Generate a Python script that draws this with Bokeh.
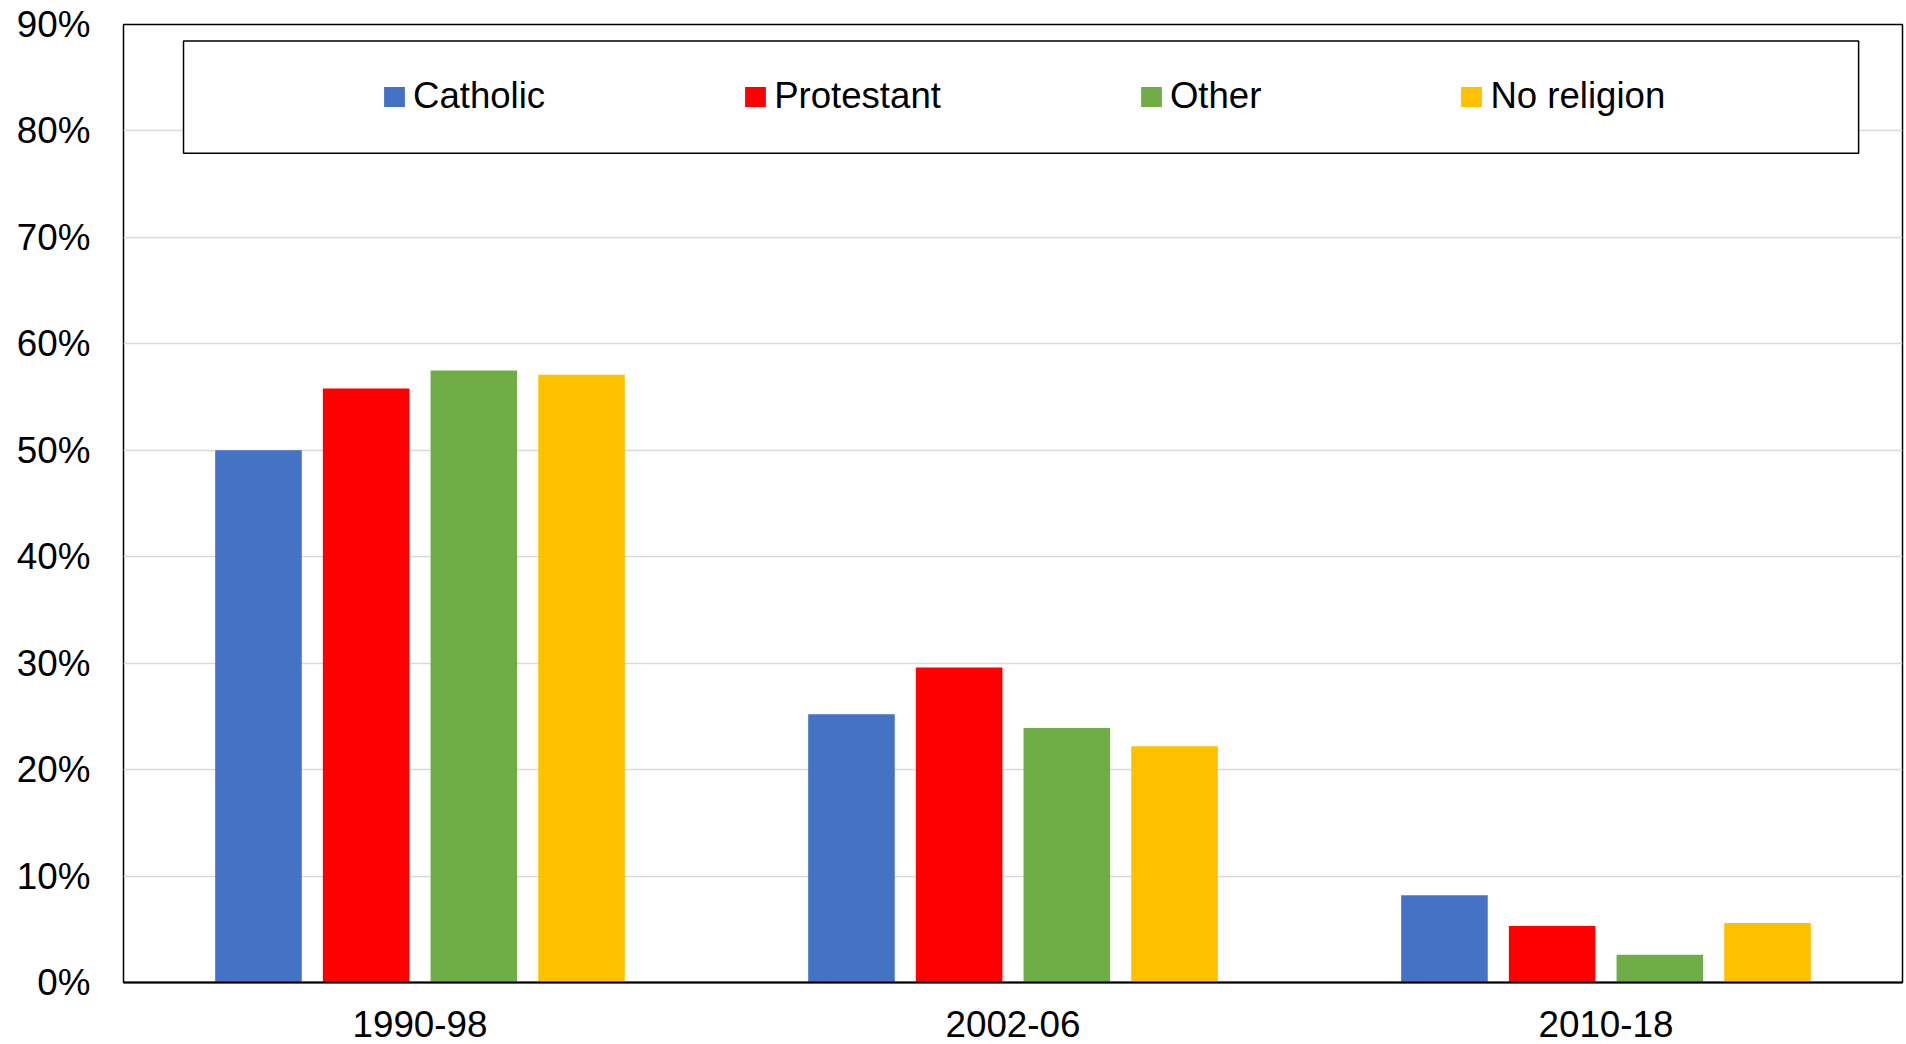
from bokeh.plotting import figure
from bokeh.models import (ColumnDataSource, FactorRange, Range1d, NumeralTickFormatter,
                          FixedTicker, Legend, LegendItem, BoxAnnotation)
from bokeh.transform import dodge
from bokeh.embed import file_html
from bokeh.resources import INLINE

# ---- data ----
periods = ["1990-98", "2002-06", "2010-18"]
series = ["Catholic", "Protestant", "Other", "No religion"]
catholic = [0.500, 0.252, 0.082]
protestant = [0.558, 0.296, 0.053]
other = [0.575, 0.239, 0.026]
no_religion = [0.571, 0.222, 0.056]
colors = ["#4472C4", "#FF0000", "#70AD47", "#FFC000"]
y_ticks = [0.0, 0.1, 0.2, 0.3, 0.4, 0.5, 0.6, 0.7, 0.8, 0.9]

src = ColumnDataSource(dict(period=periods, Catholic=catholic, Protestant=protestant,
                            Other=other, NoReligion=no_religion))
cols = ["Catholic", "Protestant", "Other", "NoReligion"]

FONT = "Liberation Sans"

p = figure(x_range=FactorRange(*periods, range_padding=0, factor_padding=0),
           y_range=Range1d(0, 0.9),
           frame_width=1779, frame_height=958,
           min_border_left=123, min_border_top=24, min_border_right=2, min_border_bottom=62,
           output_backend="svg", toolbar_location=None)

offsets = [-0.2724, -0.0908, 0.0908, 0.2724]
renderers = []
for col, off, c in zip(cols, offsets, colors):
    r = p.vbar(x=dodge("period", off, range=p.x_range), top=col, width=0.146,
               source=src, fill_color=c, line_color=None)
    renderers.append(r)

# grid / outline
p.xgrid.grid_line_color = None
p.ygrid.grid_line_color = "#d9d9d9"
p.ygrid.grid_line_width = 1.5
p.outline_line_color = "black"
p.outline_line_width = 1.5
p.background_fill_color = "white"
p.border_fill_color = "white"

# axes
p.yaxis.ticker = FixedTicker(ticks=y_ticks)
p.yaxis.formatter = NumeralTickFormatter(format="0%")
p.yaxis.axis_line_color = None
p.yaxis.major_tick_line_color = None
p.yaxis.minor_tick_line_color = None
p.yaxis.major_label_text_font = FONT
p.yaxis.major_label_text_font_size = "36.8px"
p.yaxis.major_label_text_color = "black"
p.yaxis.major_label_standoff = 27

p.xaxis.axis_line_color = "black"
p.xaxis.axis_line_width = 2
p.xaxis.major_tick_line_color = None
p.xaxis.minor_tick_line_color = None
p.xaxis.major_label_text_font = FONT
p.xaxis.major_label_text_font_size = "36.8px"
p.xaxis.major_label_text_color = "black"
p.xaxis.major_label_standoff = 22

# legend box
box = BoxAnnotation(left=0.1012, right=2.926, top=0.8844, bottom=0.7791,
                    fill_color="white", fill_alpha=1.0,
                    line_color="black", line_width=1.5, line_alpha=1.0)
p.add_layout(box)

legend = Legend(items=[LegendItem(label=s, renderers=[r]) for s, r in zip(series, renderers)],
                orientation="horizontal", location=(258, 865),
                spacing=197, glyph_width=26, glyph_height=25, label_standoff=6,
                label_height=42, label_text_font=FONT, label_text_font_size="36.6px",
                label_text_color="black", padding=0, margin=0,
                border_line_color=None, background_fill_alpha=0)
p.add_layout(legend)

open("out.html", "w").write(file_html(p, INLINE))
